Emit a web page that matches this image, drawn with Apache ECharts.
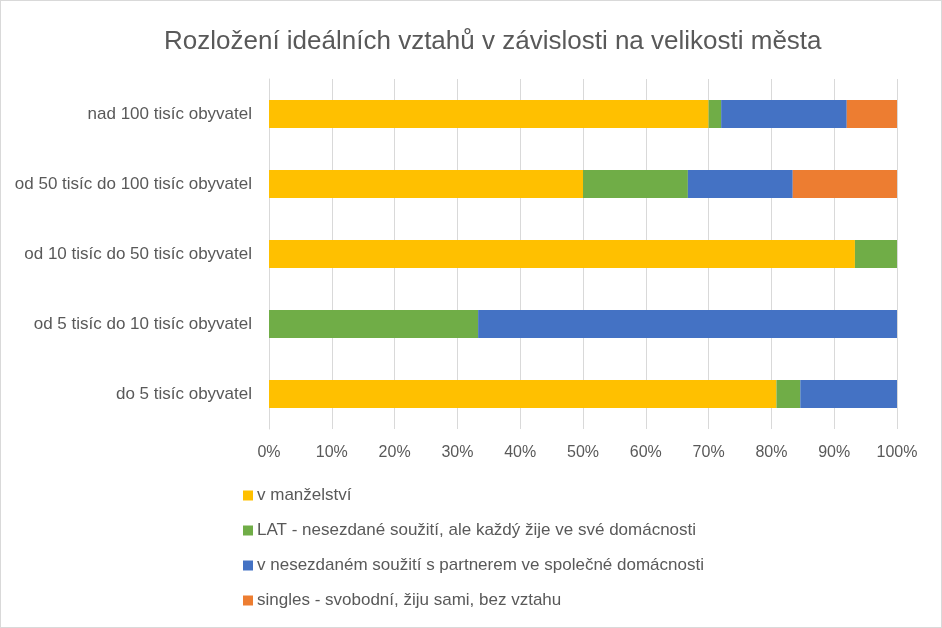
<!DOCTYPE html>
<html>
<head>
<meta charset="utf-8">
<script src="https://cdn.jsdelivr.net/npm/echarts@6/dist/echarts.min.js"></script>
<style>
html,body{margin:0;padding:0;background:#fff;}
#c{width:942px;height:628px;box-sizing:border-box;border:1px solid #d9d9d9;}
</style>
</head>
<body>
<div id="c"></div>
<script>
const categories = ['do 5 tisíc obyvatel','od 5 tisíc do 10 tisíc obyvatel','od 10 tisíc do 50 tisíc obyvatel','od 50 tisíc do 100 tisíc obyvatel','nad 100 tisíc obyvatel'];
const seriesNames = ['v manželství','LAT - nesezdané soužití, ale každý žije ve své domácnosti','v nesezdaném soužití s partnerem ve společné domácnosti','singles - svobodní, žiju sami, bez vztahu'];
const manzelstvi = [80.8, 0, 93.3, 50, 70];
const lat = [3.8, 33.3, 6.7, 16.7, 2];
const nesezdane = [15.4, 66.7, 0, 16.7, 20];
const singles = [0, 0, 0, 16.6, 8];
const colors = ['#FFC000','#70AD47','#4472C4','#ED7D31'];
const values = [manzelstvi, lat, nesezdane, singles];

const chart = echarts.init(document.getElementById('c'));
const font = 'Liberation Sans';
chart.setOption({
  animation:false,
  textStyle:{fontFamily:font},
  title:{text:'Rozložení ideálních vztahů v závislosti na velikosti města',left:158,top:23,
    textStyle:{fontFamily:font,fontSize:26,fontWeight:'normal',color:'#595959'}},
  grid:{left:268,right:44,top:78,height:350,containLabel:false},
  legend:{orient:'vertical',left:237,top:481,itemGap:18,itemWidth:10,itemHeight:10,icon:'rect',
    textStyle:{fontFamily:font,fontSize:17,color:'#595959',padding:[0,0,0,-1]},data:seriesNames},
  xAxis:{type:'value',min:0,max:100,interval:10,
    axisLabel:{formatter:'{value}%',fontSize:16,color:'#595959',margin:16},
    splitLine:{lineStyle:{color:'#d9d9d9',width:1}},axisLine:{show:false},axisTick:{show:false}},
  yAxis:{type:'category',data:categories,
    axisLabel:{fontSize:17,color:'#595959',margin:17},
    axisLine:{show:true,lineStyle:{color:'#d9d9d9'}},axisTick:{show:false}},
  series: seriesNames.map((n,i)=>({name:n,type:'bar',stack:'s',barCategoryGap:'60%',
    itemStyle:{color:colors[i]},data:values[i]}))
});
</script>
</body>
</html>
